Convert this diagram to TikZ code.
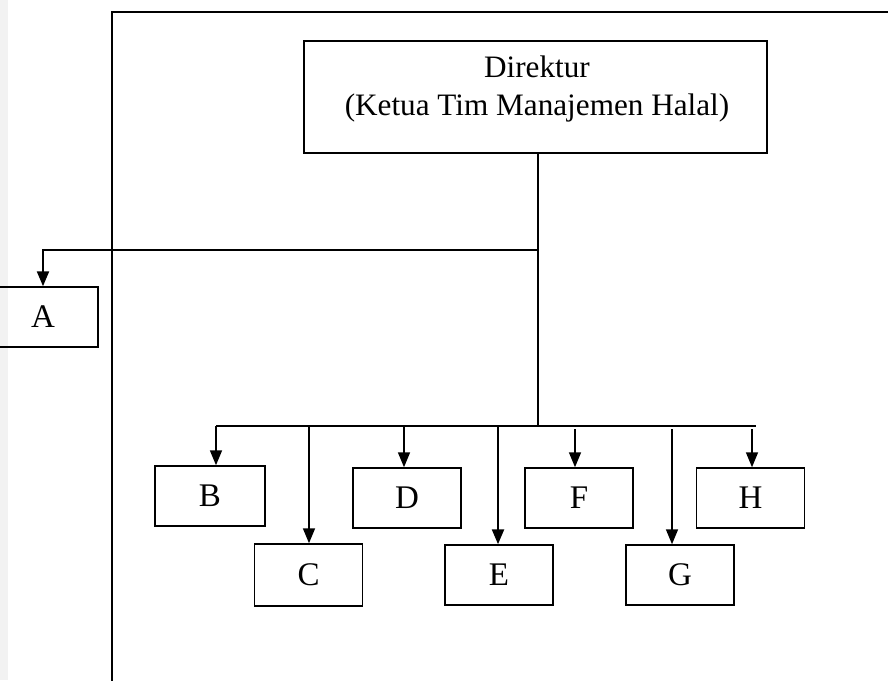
\documentclass[tikz,border=0pt]{standalone}
\usepackage{fontspec}
\setmainfont{Liberation Serif}
\usetikzlibrary{arrows.meta}

\tikzset{
  unit/.style={draw, line width=0.75pt, minimum width=54pt, minimum height=30pt,
    inner sep=0pt, font=\fontsize{16.5}{19}\selectfont},
  link/.style={line width=0.75pt},
  down/.style={line width=0.85pt, -{Triangle[length=7.5pt,width=6pt]}},
}

\begin{document}
\begin{tikzpicture}[x=0.5pt, y=-0.5pt]
    \useasboundingbox (0,0) rectangle (888,680);
    \fill[gray!10] (0,0) rectangle (8,680);

    % Frame
    \draw[link] (892,12) -- (112,12) -- (112,684);

    % Top box
    \node[draw, line width=0.75pt, minimum width=231.5pt, minimum height=56pt] (dir) at (535.5,97) {};
    \node[align=center, inner sep=0pt, font=\fontsize{15.6}{19}\selectfont] (dirtext) at (537,89)
        {Direktur\\(Ketua Tim Manajemen Halal)};

    % Units
    \node[unit, minimum width=55pt] (A) at (43,317) {A};
    \node[unit, minimum width=55pt] (B) at (210,496) {B};
    \node[unit, minimum height=31pt] (C) at (308.5,575) {C};
    \node[unit] (D) at (407,498) {D};
    \node[unit] (E) at (499,575) {E};
    \node[unit] (F) at (579,498) {F};
    \node[unit] (G) at (680,575) {G};
    \node[unit] (H) at (750.5,498) {H};

    % Lines from the director
    \coordinate (split) at (538,250);
    \coordinate (bus) at (538,426);
    \coordinate (busL) at (216,426);
    \coordinate (busR) at (756,426);
    \draw[link] (dir.south -| split) -- (bus);
    \draw[link, line width=1.1pt] (busL) -- (busR);
    \draw[down, line width=1.1pt] (split) -| (A.north);

    % Arrows to the units
    \foreach \n/\x/\y in {B/216/426, C/309/426, D/404/426, F/575/429, G/672/429, H/752/429}
    {
        \coordinate (t\n) at (\x,\y);
        \draw[down] (t\n) -- (t\n |- \n.north);
    }
    \coordinate (tE) at (498,426);
    \draw[down, line width=1.2pt] (tE) -- (tE |- E.north);
\end{tikzpicture}
\end{document}
